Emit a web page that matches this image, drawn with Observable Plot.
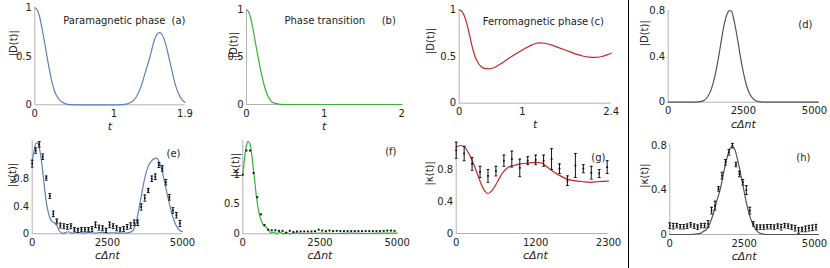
<!DOCTYPE html>
<html><head><meta charset="utf-8">
<script src="https://cdn.jsdelivr.net/npm/d3@7"></script>
<script src="https://cdn.jsdelivr.net/npm/@observablehq/plot@0.6"></script>
<style>
html,body{margin:0;padding:0;background:#fff;}
#chart{position:relative;width:830px;height:268px;overflow:hidden;font-family:"DejaVu Sans";}
#chart svg{position:absolute;left:0;top:0;pointer-events:none;font-family:"DejaVu Sans",Verdana,sans-serif !important;}
#chart svg text{font-family:"DejaVu Sans",Verdana,sans-serif !important;}
#sep{position:absolute;left:628px;top:0;width:1px;height:268px;background:#000;}
</style></head><body><div id="chart"><div id="sep"></div></div>
<script>
// ---------- data: top row |D(t)| ----------
const aT = [0, 0.03, 0.063, 0.093, 0.122, 0.156, 0.19, 0.228, 0.27, 0.325, 0.39, 0.45, 0.6, 0.8, 1.0, 1.1, 1.17, 1.25, 1.34, 1.4, 1.456, 1.506, 1.55, 1.578, 1.61, 1.654, 1.696, 1.738, 1.78, 1.823, 1.865, 1.9];
const aD = [1, 0.98, 0.9, 0.78, 0.65, 0.49, 0.34, 0.2, 0.1, 0.04, 0.01, 0.002, 0, 0, 0, 0.002, 0.01, 0.045, 0.18, 0.34, 0.49, 0.65, 0.73, 0.745, 0.725, 0.63, 0.49, 0.34, 0.2, 0.107, 0.05, 0.027];

const bT = [0, 0.03, 0.06, 0.094, 0.129, 0.159, 0.193, 0.232, 0.266, 0.31, 0.36, 0.44, 0.6, 1.0, 1.5, 2.0];
const bD = [1, 0.975, 0.89, 0.75, 0.59, 0.46, 0.32, 0.19, 0.105, 0.042, 0.014, 0.002, 0, 0, 0, 0];

const cT = [0, 0.05, 0.1, 0.15, 0.2, 0.25, 0.3, 0.35, 0.4, 0.47, 0.55, 0.65, 0.75, 0.85, 0.95, 1.05, 1.15, 1.25, 1.35, 1.45, 1.55, 1.65, 1.75, 1.85, 1.95, 2.05, 2.15, 2.25, 2.35, 2.4];
const cD = [1.0, 0.975, 0.9, 0.77, 0.62, 0.5, 0.43, 0.39, 0.372, 0.368, 0.38, 0.42, 0.465, 0.51, 0.55, 0.59, 0.625, 0.645, 0.642, 0.625, 0.6, 0.575, 0.55, 0.525, 0.505, 0.493, 0.49, 0.5, 0.522, 0.535];

const dN = [0, 500, 800, 1000, 1100, 1200, 1300, 1400, 1500, 1600, 1700, 1800, 1900, 2000, 2040, 2100, 2200, 2300, 2400, 2500, 2600, 2700, 2800, 2900, 3000, 3200, 3500, 5000];
const dD = [0, 0, 0.001, 0.003, 0.007, 0.018, 0.043, 0.09, 0.17, 0.285, 0.43, 0.59, 0.72, 0.79, 0.8, 0.795, 0.7, 0.56, 0.4, 0.26, 0.15, 0.078, 0.037, 0.015, 0.006, 0.001, 0, 0];

// ---------- data: bottom row |kappa(t)| ----------
const kN = [0,117,234,351,468,585,702,819,936,1053,1170,1287,1404,1521,1638,1755,1872,1989,2106,2223,2340,2457,2574,2691,2808,2925,3042,3159,3276,3393,3510,3627,3744,3861,3978,4095,4212,4329,4446,4563,4680,4797,4914];

const eCN = [0, 60, 130, 190, 250, 320, 390, 450, 520, 590, 660, 740, 820, 880, 950, 1020, 1200, 1350, 1500, 1700, 1900, 2100, 2300, 2500, 2700, 2900, 3100, 3250, 3350, 3450, 3550, 3650, 3750, 3850, 3950, 4050, 4120, 4230, 4330, 4430, 4530, 4630, 4730, 4830, 4930, 5000];
const eCV = [1.05, 1.2, 1.32, 1.32, 1.22, 1.02, 0.75, 0.52, 0.34, 0.23, 0.18, 0.16, 0.12, 0.06, 0.02, 0.005, 0.03, 0.01, 0.02, 0.01, 0.02, 0.01, 0.02, 0.01, 0.015, 0.01, 0.01, 0.02, 0.05, 0.15, 0.36, 0.6, 0.82, 0.97, 1.05, 1.09, 1.1, 1.04, 0.9, 0.7, 0.5, 0.32, 0.18, 0.09, 0.04, 0.03];
const eV = [1.02,1.21,1.3,1.12,0.81,0.55,0.29,0.18,0.12,0.11,0.1,0.11,0.06,0.05,0.06,0.06,0.06,0.07,0.13,0.09,0.08,0.05,0.13,0.11,0.08,0.06,0.07,0.1,0.12,0.16,0.16,0.39,0.52,0.63,0.8,0.83,1.0,0.95,0.75,0.53,0.34,0.27,0.15];
const eE = [0.05,0.04,0.04,0.04,0.03,0.035,0.04,0.035,0.035,0.035,0.035,0.035,0.03,0.03,0.03,0.03,0.03,0.035,0.04,0.035,0.035,0.03,0.04,0.035,0.035,0.03,0.035,0.035,0.04,0.04,0.04,0.045,0.045,0.03,0.04,0.04,0.035,0.04,0.04,0.04,0.04,0.04,0.045];

const fCN = [0, 54, 119, 173, 227, 281, 335, 389, 443, 518, 594, 680, 767, 842, 918, 1004, 1091, 1199, 1307, 1415, 1523, 1700, 2000, 2500, 3000, 3500, 4000, 4500, 5000];
const fCV = [1.0, 1.27, 1.5, 1.56, 1.53, 1.38, 1.13, 0.88, 0.62, 0.37, 0.23, 0.14, 0.11, 0.06, 0.01, 0.03, 0.0, 0.03, 0.0, 0.02, 0.0, 0.01, 0.005, 0.01, 0.005, 0.01, 0.005, 0.01, 0.01];
const fV = [1.0,1.41,1.41,1.03,0.62,0.33,0.15,0.07,0.06,0.06,0.05,0.05,0.02,0.05,0.03,0.04,0.04,0.04,0.04,0.04,0.045,0.07,0.055,0.045,0.055,0.045,0.05,0.045,0.045,0.045,0.045,0.045,0.045,0.045,0.045,0.045,0.045,0.045,0.045,0.05,0.055,0.055,0.05];

const gN = [0,120,240,360,480,600,720,840,960,1080,1200,1320,1440,1560,1680,1800,1920,2040,2160,2280];
const gV = [1.04,1.0,0.87,0.77,0.72,0.78,0.91,0.93,0.82,0.91,0.92,0.91,0.93,0.81,0.66,0.85,0.81,0.76,0.75,0.83];
const gE = [0.1,0.09,0.08,0.07,0.08,0.06,0.07,0.1,0.11,0.05,0.06,0.07,0.13,0.06,0.06,0.15,0.05,0.08,0.05,0.08];
const gCN = [0, 65, 126, 191, 252, 317, 377, 433, 483, 543, 619, 694, 770, 870, 971, 1071, 1197, 1298, 1373, 1474, 1574, 1675, 1776, 1901, 2027, 2153, 2300];
const gCV = [1.08, 1.1, 1.08, 1.0, 0.89, 0.75, 0.62, 0.53, 0.5, 0.54, 0.64, 0.75, 0.82, 0.85, 0.87, 0.88, 0.89, 0.88, 0.83, 0.77, 0.72, 0.68, 0.66, 0.65, 0.64, 0.65, 0.655];

const hV = [0.08,0.075,0.08,0.07,0.07,0.075,0.087,0.075,0.066,0.08,0.08,0.095,0.215,0.26,0.41,0.53,0.65,0.74,0.8,0.63,0.545,0.47,0.4,0.215,0.095,0.066,0.066,0.066,0.07,0.07,0.066,0.075,0.066,0.08,0.075,0.066,0.057,0.036,0.045,0.05,0.057,0.06,0.066];
const hE = [0.025,0.025,0.02,0.02,0.02,0.02,0.02,0.02,0.02,0.02,0.02,0.03,0.03,0.04,0.02,0.03,0.025,0.025,0.02,0.02,0.025,0.025,0.04,0.03,0.02,0.02,0.02,0.02,0.02,0.02,0.02,0.02,0.025,0.02,0.02,0.02,0.025,0.025,0.02,0.025,0.025,0.025,0.025];
const hCN = [0, 500, 800, 1029, 1141, 1253, 1365, 1477, 1588, 1700, 1812, 1924, 2036, 2110, 2180, 2237, 2349, 2461, 2573, 2685, 2796, 2908, 3043, 3266, 3600, 5000];
const hCV = [0, 0, 0.002, 0.01, 0.03, 0.05, 0.11, 0.2, 0.31, 0.41, 0.56, 0.69, 0.78, 0.79, 0.77, 0.72, 0.59, 0.44, 0.29, 0.17, 0.09, 0.04, 0.01, 0, 0, 0];

// ---------- ticks & labels ----------
const aTicksX = [0, 1, 1.9], bTicksX = [0, 1, 2], cTicksX = [0, 1, 2.4], nTicks = [0, 2500, 5000], gTicksX = [0, 1200, 2300];
const nTicksIn = [0, 2500], nTicksEdge = [5000];   // right-column panels: last label nudged inside the page
const ticks01 = [0, 0.5, 1], ticks08 = [0, 0.4, 0.8];

// ---------- colours ----------
const BLUE = "#5e81b5", GREEN = "#36b336", RED = "#c4262b", GRAY = "#555555", AXIS = "#b3b3b3", INK = "#222";

const chart = document.getElementById("chart");
const W = 830, H = 268;
const capSym = {draw(ctx, size) { const r = Math.sqrt(size / Math.PI); ctx.moveTo(-r, 0); ctx.lineTo(r, 0); }};
const pairs = (xs, ys) => xs.map((x, i) => ({x, y: ys[i]}));
const bars = (xs, ys, es) => xs.map((x, i) => ({x, y: ys[i], e: es[i]}));
const curve = (data, color) => Plot.line(data, {x: "x", y: "y", stroke: color, strokeWidth: 1.2, curve: "monotone-x"});
const errMarks = (data) => [
  Plot.ruleX(data, {x: "x", y1: d => d.y - d.e, y2: d => d.y + d.e, stroke: "#111", strokeWidth: 1}),
  Plot.dot(data, {x: "x", y: d => d.y - d.e, symbol: capSym, r: 1.4, stroke: "#111", strokeWidth: 1}),
  Plot.dot(data, {x: "x", y: d => d.y + d.e, symbol: capSym, r: 1.4, stroke: "#111", strokeWidth: 1}),
  Plot.dot(data, {x: "x", y: "y", symbol: "square", r: 1, fill: "#111"})
];
const edgeTick = (vals) => Plot.text(vals, {x: d => d, frameAnchor: "bottom", dy: 5, dx: -4, lineAnchor: "top", text: d => String(d), fill: INK, fontSize: 10});

function panel(p) {
  const [L, T, R, B] = p.frame;
  const marks = [
    Plot.ruleX([p.xDomain[0]], {stroke: AXIS, strokeWidth: 1}),
    Plot.ruleY([p.yDomain[0]], {stroke: AXIS, strokeWidth: 1}),
    ...p.marks,
    Plot.text([p.yLabel], {frameAnchor: "left", dx: p.yLab[0], dy: p.yLab[1], rotate: -90, fill: INK, fontSize: 10}),
    Plot.text([p.xLabel], {frameAnchor: "bottom", dx: p.xLab[0], dy: p.xLab[1], fontStyle: "italic", fill: INK, fontSize: 11})
  ];
  if (p.edge) marks.push(edgeTick(p.edge));
  for (const t of p.titles) {
    marks.push(Plot.text([t.text], {frameAnchor: t.anchor, dx: t.dx, dy: t.dy, textAnchor: t.anchor.endsWith("left") ? "start" : "end", fill: INK, fontSize: 10}));
  }
  const svg = Plot.plot({
    width: W, height: H,
    marginLeft: L, marginTop: T, marginRight: W - R, marginBottom: H - B,
    x: {domain: p.xDomain, ticks: p.xTicks, tickSize: 0, tickPadding: 5, tickFormat: d => String(d), label: null},
    y: {domain: p.yDomain, ticks: p.yTicks, tickSize: 0, tickPadding: 3, tickFormat: d => String(d), label: null},
    style: {fontSize: "10px", color: INK, background: "transparent", overflow: "visible"},
    marks
  });
  chart.appendChild(svg);
}

// (a)
panel({frame: [34.3, 7.3, 184.5, 104.3], xDomain: [0, 1.9], yDomain: [0, 1], xTicks: aTicksX, yTicks: ticks01,
  marks: [curve(pairs(aT, aD), BLUE)], yLabel: "|D(t)|", yLab: [-21, 0], xLabel: "t", xLab: [0, 25],
  titles: [{text: "Paramagnetic phase", anchor: "top-left", dx: 28.4, dy: 9.4}, {text: "(a)", anchor: "top-right", dx: 0.5, dy: 9.4}]});
// (b)
panel({frame: [246, 9.3, 401.3, 104], xDomain: [0, 2], yDomain: [0, 1], xTicks: bTicksX, yTicks: ticks01,
  marks: [curve(pairs(bT, bD), GREEN)], yLabel: "|D(t)|", yLab: [-13, 1], xLabel: "t", xLab: [0, 25],
  titles: [{text: "Phase transition", anchor: "top-left", dx: 38, dy: 7.4}, {text: "(b)", anchor: "top-right", dx: -6, dy: 7.4}]});
// (c)
panel({frame: [458.7, 9.3, 610.7, 102.7], xDomain: [0, 2.4], yDomain: [0, 1], xTicks: cTicksX, yTicks: ticks01,
  marks: [curve(pairs(cT, cD), RED)], yLabel: "|D(t)|", yLab: [-28, -2.5], xLabel: "t", xLab: [0, 24.5],
  titles: [{text: "Ferromagnetic phase", anchor: "top-left", dx: 23.5, dy: 8}, {text: "(c)", anchor: "top-right", dx: -7.4, dy: 8}]});
// (d)
panel({frame: [667.7, 10, 818, 101.7], xDomain: [0, 5000], yDomain: [0, 0.8], xTicks: nTicksIn, yTicks: ticks08, edge: nTicksEdge,
  marks: [curve(pairs(dN, dD), GRAY)], yLabel: "|D(t)|", yLab: [-23.5, -10], xLabel: "cΔnt", xLab: [0, 25.5],
  titles: [{text: "(d)", anchor: "top-right", dx: -6, dy: 10}]});
// (e)
panel({frame: [31.7, 140, 182, 233.3], xDomain: [0, 5000], yDomain: [0, 1.357], xTicks: nTicks, yTicks: ticks08,
  marks: [curve(pairs(eCN, eCV), BLUE), ...errMarks(bars(kN, eV, eE))], yLabel: "|κ(t)|", yLab: [-19, 0], xLabel: "cΔnt", xLab: [0, 25],
  titles: [{text: "(e)", anchor: "top-right", dx: -2, dy: 9}]});
// (f)
panel({frame: [242.3, 140, 396.7, 233.3], xDomain: [0, 5000], yDomain: [0, 1.58], xTicks: nTicks, yTicks: ticks01,
  marks: [curve(pairs(fCN, fCV), GREEN), Plot.dot(pairs(kN, fV), {x: "x", y: "y", symbol: "square", r: 1.1, fill: "#111"})],
  yLabel: "|κ(t)|", yLab: [-7.5, -10], xLabel: "cΔnt", xLab: [0, 25.5],
  titles: [{text: "(f)", anchor: "top-right", dx: -0.7, dy: 7}]});
// (g)
panel({frame: [455.7, 141, 608, 233], xDomain: [0, 2300], yDomain: [0, 1.15], xTicks: gTicksX, yTicks: ticks08,
  marks: [curve(pairs(gCN, gCV), RED), ...errMarks(bars(gN, gV, gE))], yLabel: "|κ(t)|", yLab: [-26.5, -2], xLabel: "cΔnt", xLab: [3, 25],
  titles: [{text: "(g)", anchor: "top-right", dx: -3, dy: 12}]});
// (h)
panel({frame: [669.3, 143.5, 818, 234], xDomain: [0, 5000], yDomain: [0, 0.815], xTicks: nTicksIn, yTicks: ticks08, edge: nTicksEdge,
  marks: [curve(pairs(hCN, hCV), GRAY), ...errMarks(bars(kN, hV, hE))], yLabel: "|κ(t)|", yLab: [-25.5, -1.5], xLabel: "cΔnt", xLab: [0, 25],
  titles: [{text: "(h)", anchor: "top-right", dx: -8, dy: 9.5}]});
</script></body></html>
